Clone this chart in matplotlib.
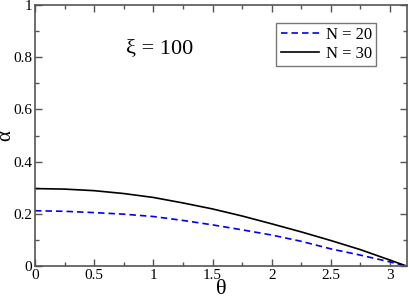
import numpy as np
import matplotlib
matplotlib.use("Agg")
import matplotlib.pyplot as plt
from matplotlib.ticker import MultipleLocator

theta = [0.0, 0.25, 0.5, 0.75, 1.0, 1.25, 1.5, 1.75, 2.0, 2.25, 2.5, 2.75, 3.0, 3.14159]
alpha_n20 = [0.212, 0.210, 0.205, 0.199, 0.190, 0.175, 0.158, 0.139, 0.119, 0.095, 0.066, 0.042, 0.016, 0.0]
alpha_n30 = [0.297, 0.295, 0.289, 0.278, 0.263, 0.242, 0.219, 0.192, 0.162, 0.131, 0.098, 0.063, 0.023, 0.0]
labels = ["N = 20", "N = 30"]

plt.rcParams['font.family'] = ['Liberation Serif', 'DejaVu Serif']
plt.rcParams['mathtext.fontset'] = 'stix'

fig = plt.figure(figsize=(4.09, 2.98), dpi=100)
ax = fig.add_axes([0.0856, 0.107, 0.909, 0.876])

ax.plot(theta, alpha_n20, color='#0000ee', lw=1.2, ls=(0, (3.9, 2.4)), label=labels[0])
ax.plot(theta, alpha_n30, color='black', lw=1.2, label=labels[1])

ax.set_xlim(0, 3.14159)
ax.set_ylim(0, 1)
ax.xaxis.set_major_locator(MultipleLocator(0.5))
ax.xaxis.set_minor_locator(MultipleLocator(0.25))
ax.yaxis.set_major_locator(MultipleLocator(0.2))
ax.yaxis.set_minor_locator(MultipleLocator(0.1))
ax.set_xticks([0, 0.5, 1, 1.5, 2, 2.5, 3])
ax.set_xticklabels(['0', '0.5', '1', '1.5', '2', '2.5', '3'])
ax.set_yticks([0, 0.2, 0.4, 0.6, 0.8, 1])
ax.set_yticklabels(['0', '0.2', '0.4', '0.6', '0.8', '1'])
ax.tick_params(which='both', direction='in', top=True, right=True, colors='#555555', labelcolor='black', labelsize=11, pad=2)
ax.tick_params(which='major', length=5, width=1)
ax.tick_params(which='minor', length=3, width=1)
for s in ax.spines.values():
    s.set_color('#555555')
    s.set_linewidth(1.2)

ax.set_xlabel('θ', fontsize=16)
ax.xaxis.set_label_coords(0.501, -0.052)
ax.set_ylabel('α', fontsize=15)
ax.yaxis.set_label_coords(-0.052, 0.5)

ax.text(0.245, 0.835, 'ξ = 100', transform=ax.transAxes, fontsize=16, ha='left', va='center')

leg = ax.legend(loc='upper right', bbox_to_anchor=(0.917, 0.931), fontsize=12, frameon=True,
                fancybox=False, edgecolor='#555555', handlelength=2.3, borderpad=0.25,
                labelspacing=0.14, handletextpad=0.4, borderaxespad=0)
leg.get_frame().set_linewidth(1.0)

fig.savefig('out.png', dpi=100)
